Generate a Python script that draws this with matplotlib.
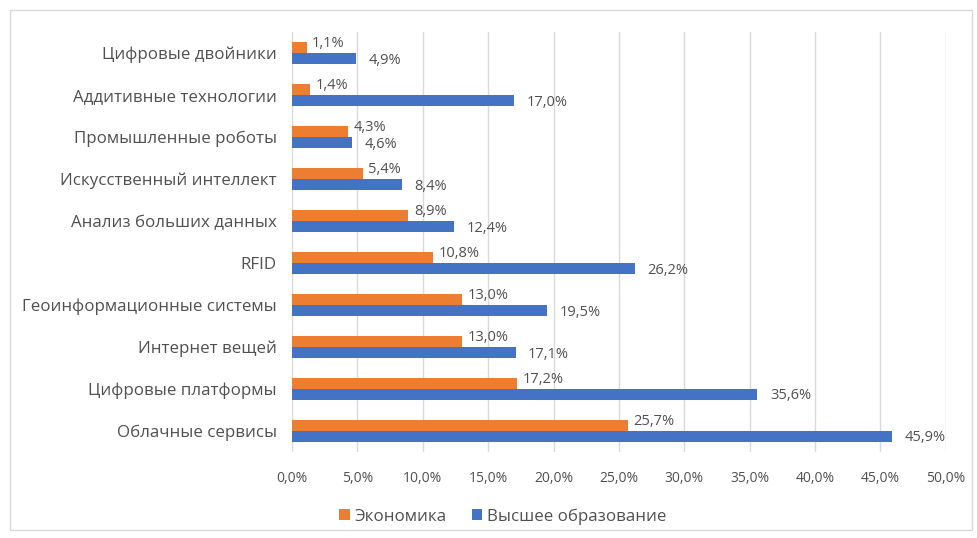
import matplotlib.pyplot as plt
import numpy as np
from matplotlib.patches import Rectangle

categories = ['Цифровые двойники', 'Аддитивные технологии', 'Промышленные роботы',
              'Искусственный интеллект', 'Анализ больших данных', 'RFID',
              'Геоинформационные системы', 'Интернет вещей', 'Цифровые платформы',
              'Облачные сервисы']
economy = [1.1, 1.4, 4.3, 5.4, 8.9, 10.8, 13.0, 13.0, 17.2, 25.7]
higher_ed = [4.9, 17.0, 4.6, 8.4, 12.4, 26.2, 19.5, 17.1, 35.6, 45.9]
xticks = np.arange(0, 55, 5)

orange = '#ED7D31'
blue = '#4472C4'
text_col = '#505050'

plt.rcParams['font.family'] = ['Open Sans', 'DejaVu Sans']

fig = plt.figure(figsize=(9.77, 5.38), dpi=100)
fig.patches.append(Rectangle((10 / 977, 8 / 538), 962 / 977, 520 / 538,
                             transform=fig.transFigure, fill=False,
                             edgecolor='#D9D9D9', linewidth=1))
ax = fig.add_axes([0.299, 0.160, 0.669, 0.7805])

y = np.arange(len(categories))
h = 0.27
ax.barh(y - h / 2, economy, height=h, color=orange, label='Экономика', zorder=3)
ax.barh(y + h / 2, higher_ed, height=h, color=blue, label='Высшее образование', zorder=3)

def fmt(v):
    return f'{v:.1f}%'.replace('.', ',')

for i, v in enumerate(economy):
    ax.annotate(fmt(v), (v, i - h / 2), xytext=(4, 3), textcoords='offset points',
                va='center', ha='left', fontsize=10.5, color=text_col)
for i, v in enumerate(higher_ed):
    ax.annotate(fmt(v), (v, i + h / 2), xytext=(9, -1), textcoords='offset points',
                va='center', ha='left', fontsize=10.5, color=text_col)

ax.set_ylim(len(categories) - 0.5, -0.5)
ax.set_xlim(0, 50)
ax.set_yticks(y)
ax.set_yticklabels(categories, fontsize=12.2, color=text_col)
ax.set_xticks(xticks)
ax.set_xticklabels([fmt(t) for t in xticks], fontsize=10, color=text_col)
ax.tick_params(axis='both', length=0)
ax.tick_params(axis='y', pad=11)
ax.tick_params(axis='x', pad=14)
ax.xaxis.grid(True, color='#D9D9D9', linewidth=1, zorder=0)
for s in ax.spines.values():
    s.set_visible(False)

fig.legend(loc='center', bbox_to_anchor=(0.515, 0.04), ncol=2, frameon=False,
           fontsize=12.2, handlelength=0.6, handleheight=0.6, columnspacing=1.5,
           handletextpad=0.3, labelcolor=text_col)

fig.savefig('out.png', dpi=100)
